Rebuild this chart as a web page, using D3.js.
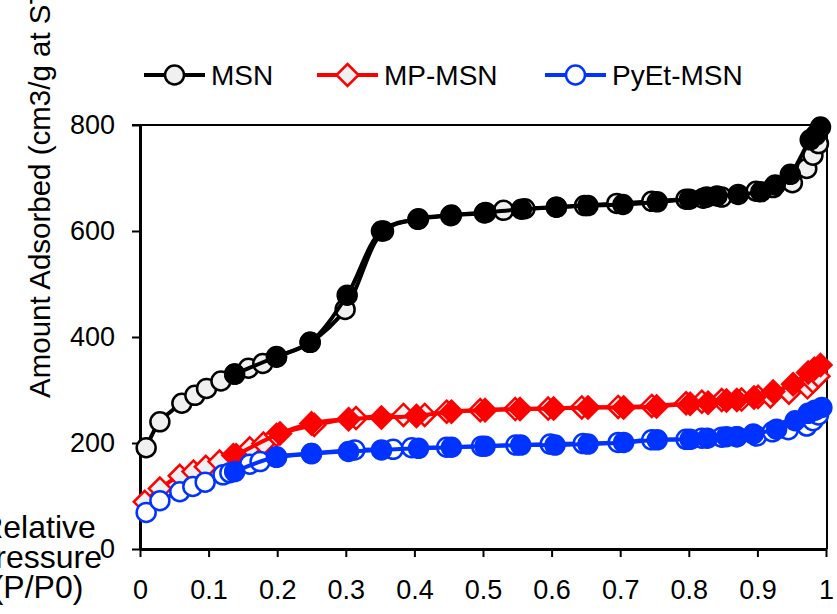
<!DOCTYPE html>
<html>
<head>
<meta charset="utf-8">
<script src="https://cdn.jsdelivr.net/npm/d3@7/dist/d3.min.js"></script>
<style>
  html, body { margin: 0; padding: 0; background: #fff; }
  svg { display: block; font-family: "Liberation Sans", Arial, sans-serif; }
</style>
</head>
<body>
<div id="chart"></div>
<script>
// Series names
const seriesNames = ['MSN', 'MP-MSN', 'PyEt-MSN'];

// [P/P0, amount] pairs
const msnAds = [[0.009,191],[0.029,240],[0.061,275],[0.080,290],[0.097,303],[0.118,317],[0.138,330],
  [0.158,341],[0.179,350],[0.199,362],[0.248,390],[0.299,452],[0.355,600],[0.405,622],[0.453,629],
  [0.502,634],[0.530,639],[0.561,642],[0.607,645],[0.648,648],[0.695,652],[0.746,656],[0.796,660],
  [0.821,662],[0.848,664],[0.898,675],[0.923,682],[0.951,691],[0.972,718],[0.981,743],[0.989,765]];
const msnDes = [[0.992,796],[0.985,781],[0.977,772],[0.948,707],[0.926,687],[0.905,674],[0.872,669],
  [0.841,666],[0.826,664],[0.801,660],[0.754,655],[0.704,650],[0.653,648],[0.607,645],[0.556,641],
  [0.504,635],[0.454,630],[0.406,623],[0.352,600],[0.302,479],[0.248,390],[0.199,363],[0.138,330]];

const mpAds = [[0.007,89],[0.029,114],[0.058,138],[0.078,146],[0.096,155],[0.116,165],[0.136,177],
  [0.160,190],[0.180,199],[0.199,215],[0.254,234],[0.315,247],[0.384,253],[0.415,253],[0.447,259],
  [0.496,262],[0.547,264],[0.595,265],[0.644,267],[0.697,268],[0.746,270],[0.796,275],[0.819,278],
  [0.848,281],[0.877,282],[0.901,287],[0.919,288],[0.946,295],[0.973,305],[0.981,316],[0.989,326]];
const mpDes = [[0.992,347],[0.983,340],[0.974,333],[0.952,311],[0.923,297],[0.895,286],[0.870,281],
  [0.855,280],[0.828,276],[0.802,274],[0.753,269],[0.705,267],[0.653,267],[0.603,265],[0.554,264],
  [0.503,262],[0.454,259],[0.403,251],[0.352,248],[0.304,245],[0.250,237],[0.204,218],[0.140,177]];

const pyAds = [[0.009,69],[0.029,91],[0.058,108],[0.077,118],[0.095,126],[0.121,140],[0.131,144],
  [0.160,160],[0.175,165],[0.199,173],[0.250,180],[0.313,187],[0.369,188],[0.396,191],[0.447,192],
  [0.498,194],[0.548,196],[0.598,198],[0.646,199],[0.697,201],[0.746,206],[0.796,207],[0.819,209],
  [0.848,211],[0.870,212],[0.899,213],[0.922,221],[0.945,225],[0.972,232],[0.981,242],[0.989,253]];
const pyDes = [[0.994,267],[0.984,262],[0.974,256],[0.955,242],[0.928,226],[0.894,217],[0.870,212],
  [0.855,212],[0.827,209],[0.802,207],[0.754,206],[0.705,201],[0.653,198],[0.605,196],[0.555,196],
  [0.503,194],[0.454,192],[0.406,190],[0.352,187],[0.304,184],[0.250,180],[0.199,174],[0.138,146]];

// Axis ticks
const xTicks = [0, 0.1, 0.2, 0.3, 0.4, 0.5, 0.6, 0.7, 0.8, 0.9, 1];
const xTickLabels = ['0', '0.1', '0.2', '0.3', '0.4', '0.5', '0.6', '0.7', '0.8', '0.9', '1'];
const yTicks = [0, 200, 400, 600, 800];

const width = 837, height = 614;
const svg = d3.select('#chart').append('svg')
  .attr('width', width)
  .attr('height', height);

const x = d3.scaleLinear().domain([0, 1]).range([140, 826]);
const y = d3.scaleLinear().domain([0, 800]).range([549, 125]);

// styles per series
const styles = [
  { color: '#000000', open: '#f0f0f0', shape: 'circle' },
  { color: '#ff0000', open: '#f0f0f0', shape: 'diamond' },
  { color: '#0033ff', open: '#ffffff', shape: 'circle' }
];

function markerPath(shape) {
  if (shape === 'diamond') {
    const h = 11;
    return `M0,${-h}L${h},0L0,${h}L${-h},0Z`;
  }
  return d3.symbol(d3.symbolCircle, Math.PI * 9.5 * 9.5)();
}

const line = d3.line()
  .x(d => x(d[0]))
  .y(d => y(d[1]))
  .curve(d3.curveCatmullRom.alpha(0.5));

// frame (top / right)
svg.append('line')
  .attr('x1', 132).attr('x2', 827)
  .attr('y1', y(800)).attr('y2', y(800))
  .attr('stroke', '#000').attr('stroke-width', 2);
svg.append('line')
  .attr('x1', 827).attr('x2', 827)
  .attr('y1', y(800)).attr('y2', y(0))
  .attr('stroke', '#000').attr('stroke-width', 2);

// axes
const yAxis = d3.axisLeft(y)
  .tickValues(yTicks)
  .tickSize(8)
  .tickSizeOuter(0)
  .tickPadding(17);
const xAxis = d3.axisBottom(x)
  .tickValues(xTicks)
  .tickFormat((d, i) => xTickLabels[i])
  .tickSize(8)
  .tickSizeOuter(0)
  .tickPadding(23);

const gy = svg.append('g')
  .attr('transform', `translate(${x(0)},0)`)
  .call(yAxis);
const gx = svg.append('g')
  .attr('transform', `translate(0,${y(0)})`)
  .call(xAxis);

[gx, gy].forEach(g => {
  g.select('.domain').attr('stroke-width', 3);
  g.selectAll('.tick line').attr('stroke-width', 2);
  g.selectAll('.tick text')
    .attr('font-size', 27)
    .attr('font-family', '"Liberation Sans", Arial, sans-serif')
    .attr('fill', '#000');
});

// axis titles (clipped by the page edge, as in the source)
svg.append('text')
  .attr('transform', 'translate(50,398) rotate(-90)')
  .attr('font-size', 29.5)
  .attr('fill', '#000')
  .text('Amount Adsorbed (cm3/g at STP)');

const xTitle = svg.append('text')
  .attr('font-size', 32)
  .attr('fill', '#000')
  .attr('text-anchor', 'middle');
['Relative', 'Pressure', '(P/P0)'].forEach((t, i) => {
  xTitle.append('tspan')
    .attr('x', 38)
    .attr('y', 538 + i * 30)
    .text(t);
});

// series
const series = [
  { ads: msnAds, des: msnDes },
  { ads: mpAds, des: mpDes },
  { ads: pyAds, des: pyDes }
];

series.forEach((s, i) => {
  const st = styles[i];
  const g = svg.append('g');
  [['ads', st.open], ['des', st.color]].forEach(([key, fill]) => {
    g.append('path')
      .attr('d', line(s[key]))
      .attr('fill', 'none')
      .attr('stroke', st.color)
      .attr('stroke-width', 4);
    g.selectAll(null)
      .data(s[key])
      .enter()
      .append('path')
      .attr('d', markerPath(st.shape))
      .attr('transform', d => `translate(${x(d[0])},${y(d[1])})`)
      .attr('fill', fill)
      .attr('stroke', st.color)
      .attr('stroke-width', 2.5);
  });
});

// legend
const legendX = [144, 317, 545];
const legend = svg.append('g');
seriesNames.forEach((name, i) => {
  const st = styles[i];
  const lx = legendX[i];
  legend.append('line')
    .attr('x1', lx).attr('x2', lx + 61)
    .attr('y1', 75).attr('y2', 75)
    .attr('stroke', st.color)
    .attr('stroke-width', 4);
  legend.append('path')
    .attr('d', markerPath(st.shape))
    .attr('transform', `translate(${lx + 30.5},75)`)
    .attr('fill', st.open)
    .attr('stroke', st.color)
    .attr('stroke-width', 2.5);
  legend.append('text')
    .attr('x', lx + 67)
    .attr('y', 85)
    .attr('font-size', 28)
    .attr('fill', '#000')
    .text(name);
});
</script>
</body>
</html>
